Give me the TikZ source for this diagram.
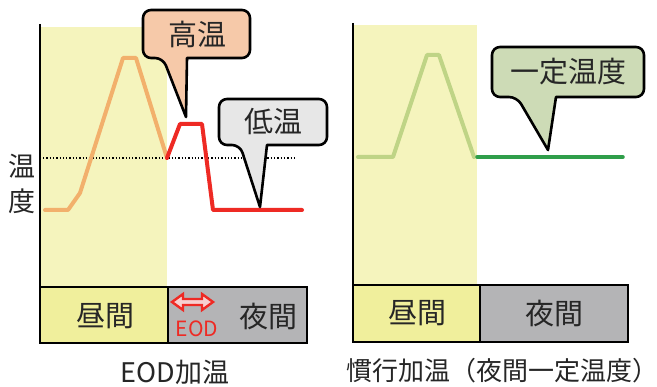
\documentclass[tikz,border=0pt]{standalone}
\usepackage{fontspec}
\setmainfont{Noto Sans CJK JP}
\usetikzlibrary{calc}
\definecolor{txt}{HTML}{262626}
\definecolor{curveor}{HTML}{F2B06C}
\definecolor{curvered}{HTML}{EE2A24}
\definecolor{curvelg}{HTML}{BFD486}
\definecolor{curvedg}{HTML}{2F9E4A}
\definecolor{fillhi}{HTML}{F6C9A9}
\definecolor{filllo}{HTML}{E7E7E7}
\definecolor{fillconst}{HTML}{CDDBB6}
\definecolor{yellowbg}{HTML}{F5F4BD}
\definecolor{yellowbox}{HTML}{F0EF9C}
\definecolor{graybox}{HTML}{B4B4B6}
\definecolor{eodpink}{HTML}{F7D0D0}
\tikzset{
  lbl/.style={text=txt, font=\fontsize{29}{32}\selectfont, inner sep=0pt},
  captxt/.style={text=txt, font=\fontsize{27}{30}\selectfont, inner sep=0pt},
  callout/.style={draw=black, line width=2.6pt, line join=round},
  curve/.style={line width=4pt, line join=round, line cap=round},
  daybox/.style={draw=black, line width=1.8pt, fill=yellowbox},
  nightbox/.style={draw=black, line width=1.8pt, fill=graybox},
  axisline/.style={draw=black, line width=2.6pt}
}
\begin{document}
\begin{tikzpicture}[x=1pt,y=-1pt]
\useasboundingbox (0,0) rectangle (657,387);
% ---------- left panel ----------
\fill[yellowbg] (41,27) rectangle (167,287);
\draw[black, dotted, line width=1.3pt] (43,158) -- (297,158);
\draw[curve, curveor] (45,210) -- (68,210) -- (80,193) -- (123,58) -- (136,58) -- (167,158);
\draw[curve, curvered] (167,158) -- (180,124) -- (202,124) -- (213,210) -- (302,210);
\draw[axisline] (40,24) -- (40,287);
\node[lbl, font=\fontsize{27}{30}\selectfont] (t1) at (22,166) {温};
\node[lbl, font=\fontsize{27}{30}\selectfont] (t2) at (22,201) {度};
% callout high
\draw[callout, fill=fillhi] (187,58) [rounded corners=8pt] -- (250,58) -- (250,10) -- (143,10) -- (143,58) -- (163,58) [sharp corners] -- (186,117) -- cycle;
\node[lbl] (hi) at (197,34) {高温};
% callout low
\draw[callout, fill=filllo] (267,145) [rounded corners=8pt] -- (327,145) -- (327,99) -- (219,99) -- (219,145) -- (240,145) [sharp corners] -- (260,207) -- cycle;
\node[lbl] (lo) at (273,122) {低温};
% bottom boxes
\draw[daybox] (40,287) rectangle (168,343);
\draw[nightbox] (168,287) rectangle (307,343);
\node[lbl] (day1) at (105,316) {昼間};
\node[lbl] (night1) at (268,316) {夜間};
\draw[curvered, fill=eodpink, line width=2.4pt, line join=miter] (172,302) -- (183,294) -- (183,299) -- (202,299) -- (202,294) -- (213,302) -- (202,310) -- (202,305) -- (183,305) -- (183,310) -- cycle;
\node[text=curvered, font=\fontsize{21}{24}\selectfont, inner sep=0pt] (eod) at (197,329) {EOD};
\node[captxt] (c1) at (175,372) {EOD加温};
% ---------- right panel ----------
\fill[yellowbg] (353,25) rectangle (477,285);
\draw[curve, curvelg] (358,157) -- (393,157) -- (427,55) -- (439,55) -- (474,157);
\draw[curve, curvedg, line width=3.5pt] (477,157) -- (623,157);
\draw[axisline] (353,23) -- (353,285);
\draw[callout, fill=fillconst] (556,97) [rounded corners=8pt] -- (644,97) -- (644,47) -- (492,47) -- (492,97) -- (517,97) [sharp corners] -- (548,150) -- cycle;
\node[lbl] (const) at (568,72) {一定温度};
\draw[daybox] (353,285) rectangle (480,342);
\draw[nightbox] (480,285) rectangle (628,342);
\node[lbl] (day2) at (417,313) {昼間};
\node[lbl] (night2) at (554,313) {夜間};
\node[captxt, font=\fontsize{26}{30}\selectfont] (c2) at (502,371) {慣行加温（夜間一定温度）};
\end{tikzpicture}
\end{document}
